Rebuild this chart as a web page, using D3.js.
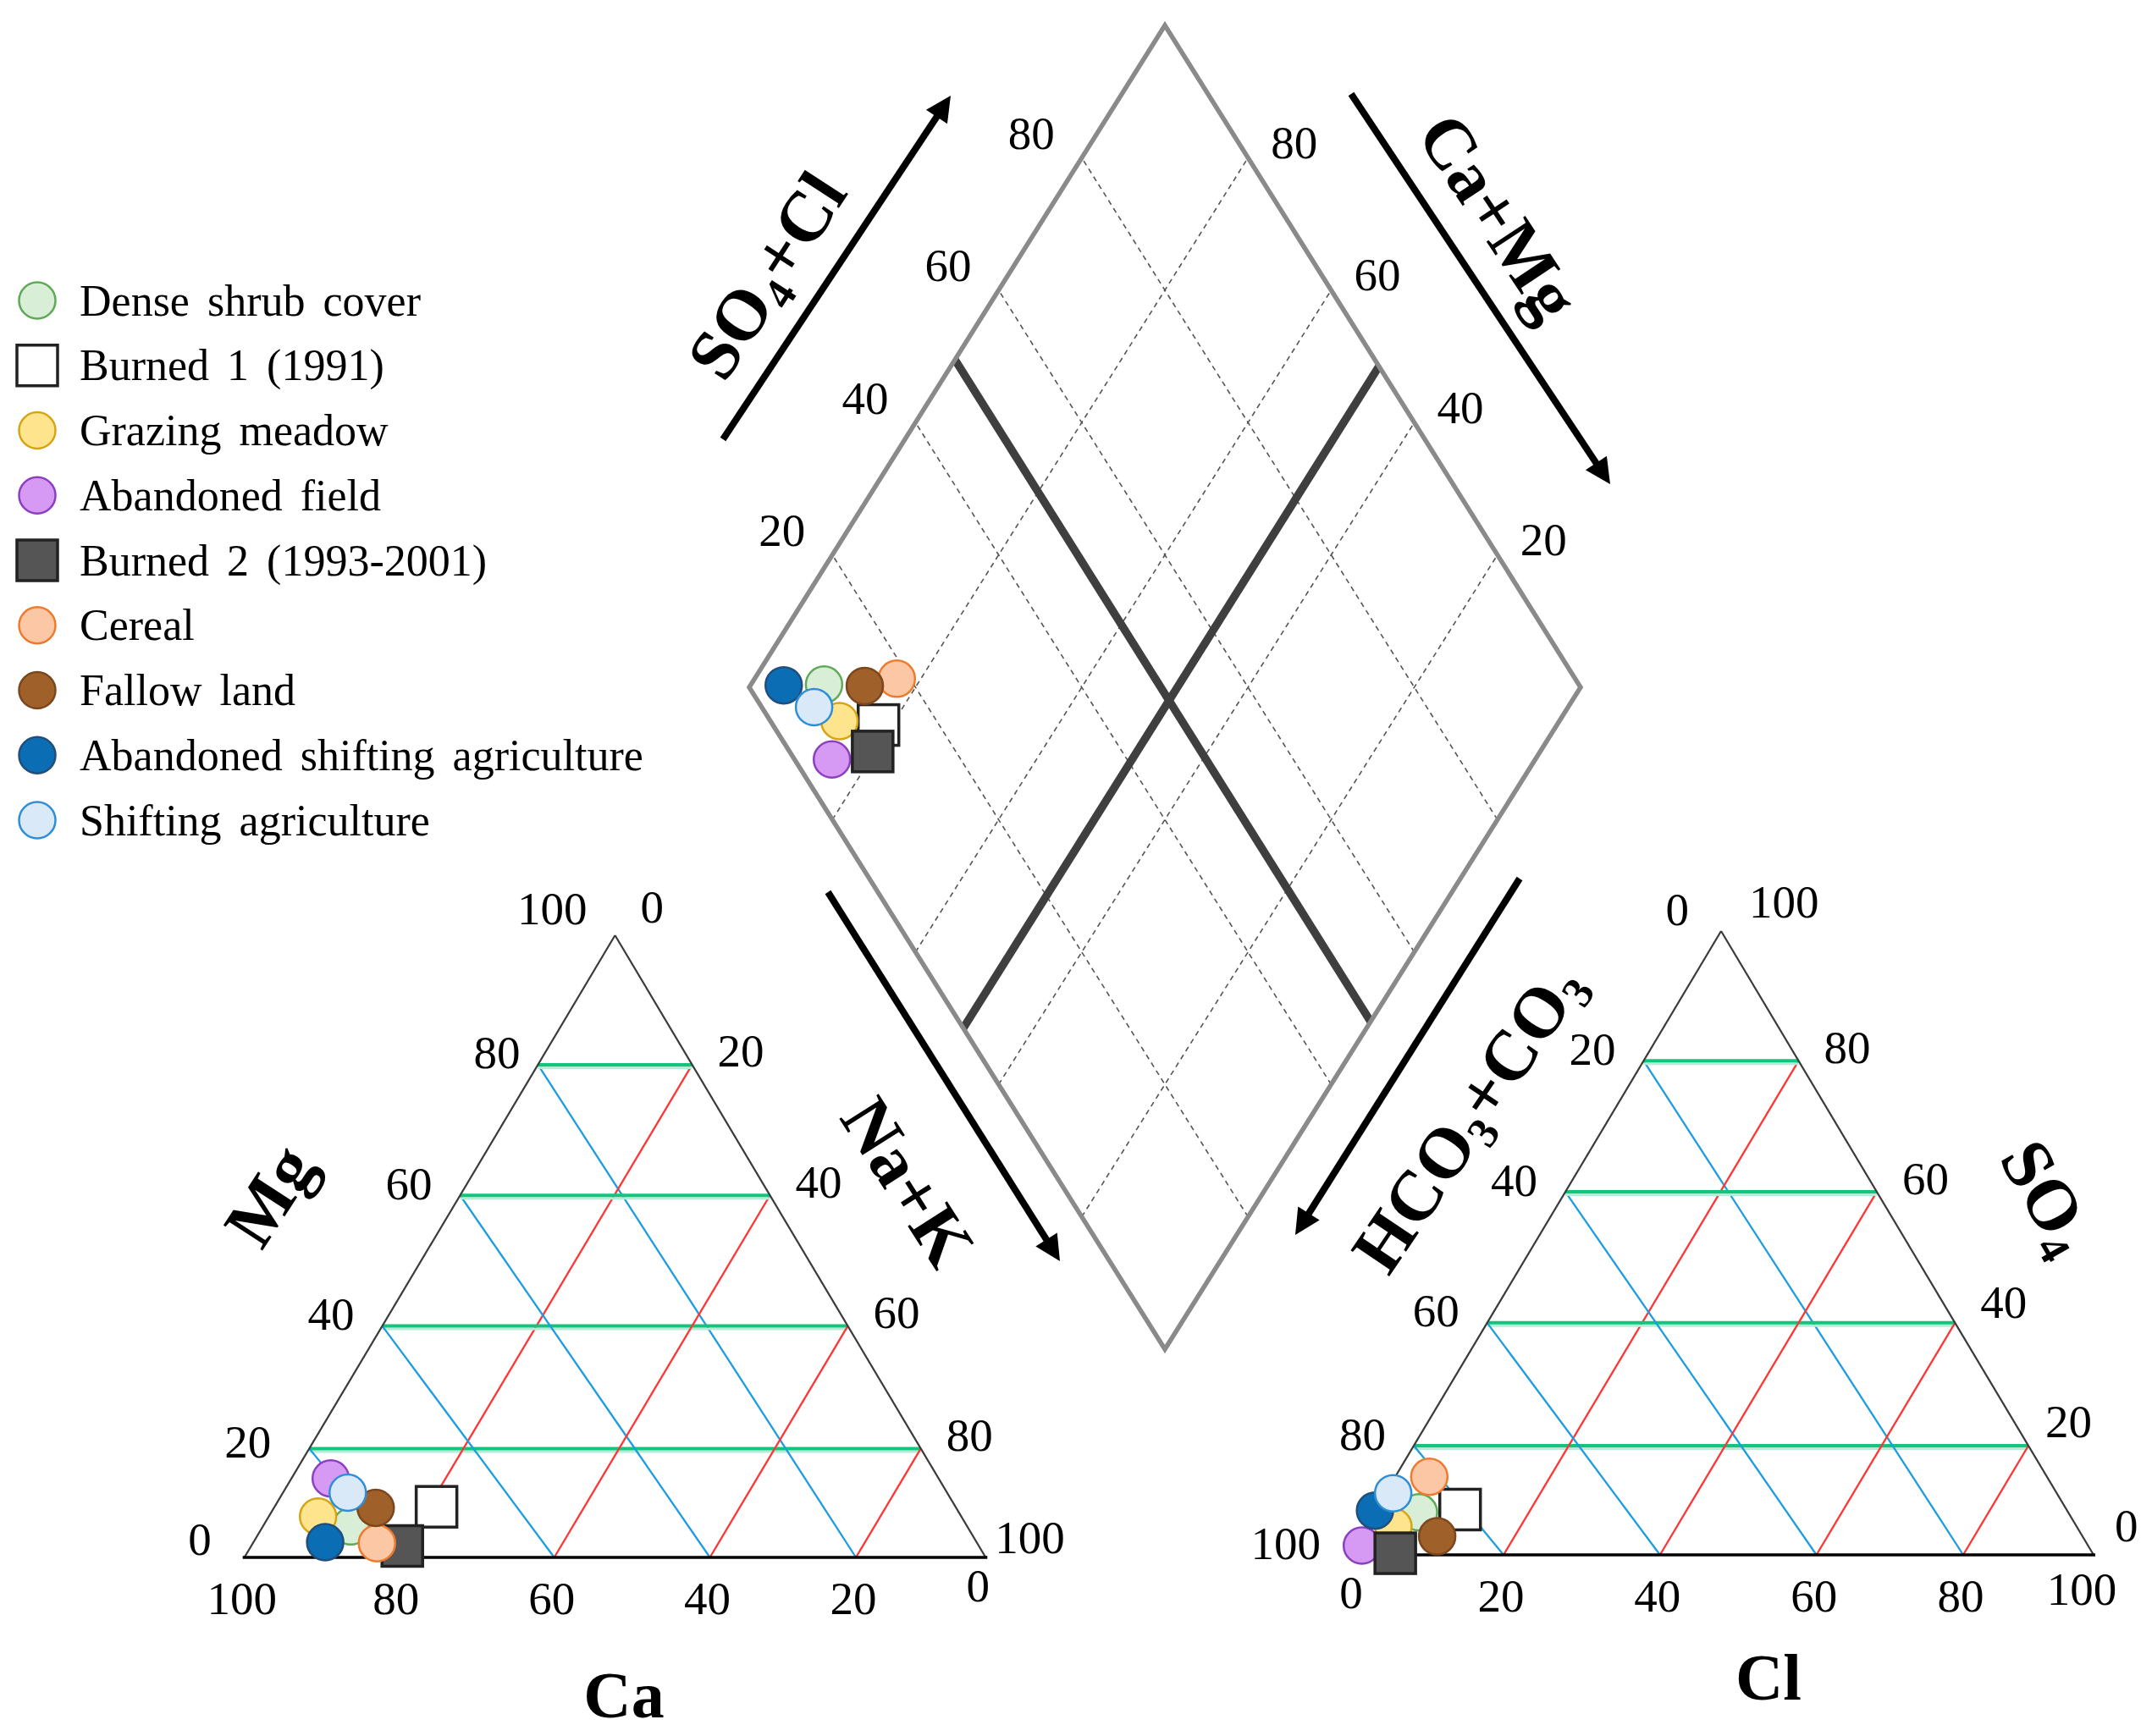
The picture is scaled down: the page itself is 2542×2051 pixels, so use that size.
<!DOCTYPE html>
<html><head><meta charset="utf-8">
<script src="https://cdn.jsdelivr.net/npm/d3@7"></script>
<style>html,body{margin:0;padding:0;background:#fff}svg{display:block}</style>
</head><body>
<svg id="chart" width="2542" height="2051"></svg>
<script>
// ---------------- DATA ----------------
const seriesNames = ["Dense shrub cover","Burned 1 (1991)","Grazing meadow","Abandoned field","Burned 2 (1993-2001)","Cereal","Fallow land","Abandoned shifting agriculture","Shifting agriculture"];
const seriesShape = ["circle","square","circle","circle","square","circle","circle","circle","circle"];
// cation triangle (% of cations)
const cationMg  = [5.7, 9.3, 7.5, 14.5, 2.1, 2.6, 9.1, 2.8, 11.9];
const cationNaK = [11.4, 21.0, 6.4, 5.1, 19.6, 16.1, 13.2, 9.3, 8.4];
// anion triangle (% of anions)
const anionSO4 = [7.8, 8.3, 5.2, 1.7, 0.3, 14.3, 3.4, 8.1, 11.3];
const anionCl  = [5.8, 10.9, 3.6, 1.0, 5.9, 4.4, 10.0, 0.0, 1.0];
// central diamond
const diamondSO4Cl = [9.2, 12.7, 8.3, 4.5, 10.0, 18.4, 14.0, 4.3, 6.3];
const diamondCaMg  = [91.2, 81.6, 86.6, 84.6, 80.3, 82.9, 86.2, 96.0, 90.7];
// ticks and dividing lines
const tickValues = [0, 20, 40, 60, 80, 100];
const gridLevels = [20, 40, 60, 80];
const faciesSO4Cl = 49.5;
const faciesCaMg  = 48.5;

// ---------------- STYLE / LAYOUT ----------------
const fillColors   = ["#d9eed6","#ffffff","#ffe48e","#d79af4","#555555","#fcc7a5","#a0602a","#0b6eb4","#d9e9f7"];
const strokeColors = ["#5fa957","#222222","#d6a515","#8c40bf","#222222","#ee7a2e","#7b471c","#214e7a","#2f8fd6"];
const gridFrac = [0, 0.175, 0.372, 0.582, 0.792, 1];
const SERIF = "'Liberation Serif','Times New Roman',serif";
const GREEN = "#12c47c", GREEN_PALE = "#b5ecd7", BLUE = "#1d9ddf", RED = "#ff3535";
const R_PT = 21.5, SQ = 48;

const svg = d3.select("#chart");
svg.append("rect").attr("width",2542).attr("height",2051).attr("fill","#fff");

function ternary(L, R, T) {
  const frac = d3.scaleLinear().domain(tickValues).range(gridFrac);
  const xs = d3.scaleLinear().domain([0,1]).range([L[0], R[0]]);
  const ys = d3.scaleLinear().domain([0,1]).range([L[1], T[1]]);
  return (top, right) => {
    const b = frac(top);
    const a = 1 - frac(100 - right);
    return [xs(a + b/2), ys(b)];
  };
}

function line(g, p, q, color, w, dash) {
  const l = g.append("line").attr("x1",p[0]).attr("y1",p[1]).attr("x2",q[0]).attr("y2",q[1])
    .attr("stroke",color).attr("stroke-width",w);
  if (dash) l.attr("stroke-dasharray",dash);
  return l;
}

function label(g, p, txt, dx, dy, anchor, size) {
  g.append("text").attr("x",p[0]+dx).attr("y",p[1]+dy).attr("text-anchor",anchor)
    .attr("dominant-baseline","central").attr("font-family",SERIF).attr("font-size",size||55)
    .attr("fill","#000").text(txt);
}

function drawMarker(g, i, p) {
  if (seriesShape[i] === "square") {
    g.append("rect").attr("x",p[0]-SQ/2).attr("y",p[1]-SQ/2).attr("width",SQ).attr("height",SQ)
      .attr("fill",fillColors[i]).attr("stroke",strokeColors[i]).attr("stroke-width",3.5);
  } else {
    g.append("circle").attr("cx",p[0]).attr("cy",p[1]).attr("r",R_PT)
      .attr("fill",fillColors[i]).attr("stroke",strokeColors[i]).attr("stroke-width",2.5);
  }
}

function drawTriangle(L, R, T, topVals, rightVals, opt) {
  const g = svg.append("g");
  const P = ternary(L, R, T);
  // grid
  gridLevels.forEach(v => {
    const a = P(v, 0), b = P(v, 100 - v);
    line(g, [a[0], a[1]+3.5], [b[0], b[1]+3.5], GREEN_PALE, 3);
    line(g, a, b, GREEN, 4);                                   // constant top
    line(g, P(100 - v, 0), P(0, 100 - v), BLUE, 2.3);          // constant left component
    line(g, P(0, v), P(100 - v, v), RED, 2.3);                 // constant right component
  });
  // outline
  line(g, L, T, "#3a3a3a", 2.2);
  line(g, T, R, "#3a3a3a", 2.2);
  line(g, [L[0]-2, L[1]], [R[0]+2, R[1]], "#000", 3.5);
  // tick labels
  const adj = opt.adjust;
  const o = (k, v) => (adj[k] && adj[k][v]) || [0, 0];
  tickValues.forEach(v => {
    let p = P(0, opt.baseFromRight ? v : 100 - v), d = o("base", v);
    label(g, p, String(v), -3 + d[0], 48 + d[1], "middle");
    p = P(opt.leftIsTop ? v : 100 - v, 0); d = o("left", v);
    label(g, p, String(v), -33 + d[0], -14 + d[1], "end");
    p = P(opt.rightIsTop ? v : 100 - v, opt.rightIsTop ? 100 - v : v); d = o("right", v);
    label(g, p, String(v), 30 + d[0], -16 + d[1], "start");
  });
  // points
  seriesNames.forEach((n, i) => drawMarker(g, i, P(topVals[i], rightVals[i])));
}

// Cation triangle: top = Mg, right = Na+K, left = Ca; base labelled Ca
drawTriangle([288.7,1840],[1164.3,1840],[726.5,1105], cationMg, cationNaK,
  {baseFromRight:false, leftIsTop:true, rightIsTop:false,
   adjust:{ base:{0:[-6,-15]}, left:{100:[0,-18], 80:[12,0], 20:[-12,6], 0:[-6,-8]},
            right:{0:[0,-18], 100:[-19,-8]} }});
// Anion triangle: top = SO4, right = Cl, left = HCO3; base labelled Cl
drawTriangle([1593,1837],[2473,1837],[2033,1100], anionSO4, anionCl,
  {baseFromRight:true, leftIsTop:false, rightIsTop:true,
   adjust:{ base:{100:[-11,-8], 0:[6,-4]}, left:{0:[-5,-12]},
            right:{100:[3,-19], 0:[-5,-19], 20:[-10,-13], 40:[0,-8]} }});

// ---------------- DIAMOND ----------------
const dg = svg.append("g");
const dX = d3.scaleLinear().domain([-100,100]).range([885,1867]);
const dY = d3.scaleLinear().domain([0,200]).range([1594,30]);
const D = (s, c) => [dX(s - c), dY(s + c)];
gridLevels.forEach(v => {
  line(dg, D(v, 0), D(v, 100), "#555", 1.6, "6,5");
  line(dg, D(0, v), D(100, v), "#555", 1.6, "6,5");
});
line(dg, D(faciesSO4Cl, 0), D(faciesSO4Cl, 100), "#3f3f3f", 9.5);
line(dg, D(0, faciesCaMg), D(100, faciesCaMg), "#3f3f3f", 9.5);
dg.append("path").attr("d", d3.line()([D(100,100), D(100,0), D(0,0), D(0,100)]) + "Z")
  .attr("fill","none").attr("stroke","#8a8a8a").attr("stroke-width",5.5);
gridLevels.forEach(v => {
  label(dg, D(v, 100), String(v), -32, -29, "end");
  label(dg, D(100, v), String(v), 27, -18, "start");
});
seriesNames.forEach((n, i) => drawMarker(dg, i, D(diamondSO4Cl[i], diamondCaMg[i])));

// ---------------- ARROWS ----------------
const arrows = [
  {from:[854,519], to:[1123,113]},
  {from:[1596,111], to:[1902,572]},
  {from:[978,1054], to:[1252,1490]},
  {from:[1795,1038], to:[1530,1459]}
];
const ag = svg.append("g");
arrows.forEach(a => {
  const dx = a.to[0]-a.from[0], dy = a.to[1]-a.from[1];
  const len = Math.hypot(dx, dy), ux = dx/len, uy = dy/len;
  const hl = 30, hw = 15;
  const base = [a.to[0]-ux*hl, a.to[1]-uy*hl];
  line(ag, a.from, [a.to[0]-ux*(hl-4), a.to[1]-uy*(hl-4)], "#000", 8);
  ag.append("path").attr("d", d3.line()([a.to, [base[0]-uy*hw, base[1]+ux*hw], [base[0]+uy*hw, base[1]-ux*hw]]) + "Z")
    .attr("fill","#000");
});

// ---------------- TITLES ----------------
function title(parts, x, y, rot, size) {
  const t = svg.append("text").attr("transform",`translate(${x},${y}) rotate(${rot})`)
    .attr("text-anchor","middle").attr("dominant-baseline","central")
    .attr("font-family",SERIF).attr("font-weight","bold").attr("font-size",size).attr("fill","#000");
  let shift = 0;
  parts.forEach(p => {
    const sub = p.sub === true;
    const want = sub ? size*0.3 : 0;
    const ts = t.append("tspan").text(p.t);
    if (want !== shift) { ts.attr("dy", want - shift); shift = want; }
    if (sub) ts.attr("font-size", size*0.62);
  });
}
title([{t:"SO"},{t:"4",sub:true},{t:"+Cl"}], 905, 325, -57, 84);
title([{t:"Ca+Mg"}], 1771, 256, 56.5, 84);
title([{t:"Na+K"}], 1073, 1396, 57.5, 84);
title([{t:"HCO"},{t:"3",sub:true},{t:"+CO"},{t:"3",sub:true}], 1733, 1320, -56, 84);
title([{t:"Mg"}], 318, 1412, -57, 84);
title([{t:"SO"},{t:"4",sub:true}], 2420, 1414, 60, 84);
title([{t:"Ca"}], 737, 2002, 0, 78);
title([{t:"Cl"}], 2089, 1981, 0, 78);

// ---------------- LEGEND ----------------
const lg = svg.append("g");
const legendY = d3.scaleLinear().domain([0, seriesNames.length - 1]).range([355, 969]);
seriesNames.forEach((n, i) => {
  const y = legendY(i);
  drawMarker(lg, i, [44, y]);
  lg.append("text").attr("x",94).attr("y",y).attr("dominant-baseline","central")
    .attr("font-family",SERIF).attr("font-size",52).attr("word-spacing",8).attr("fill","#000").text(n);
});
</script>
</body></html>
